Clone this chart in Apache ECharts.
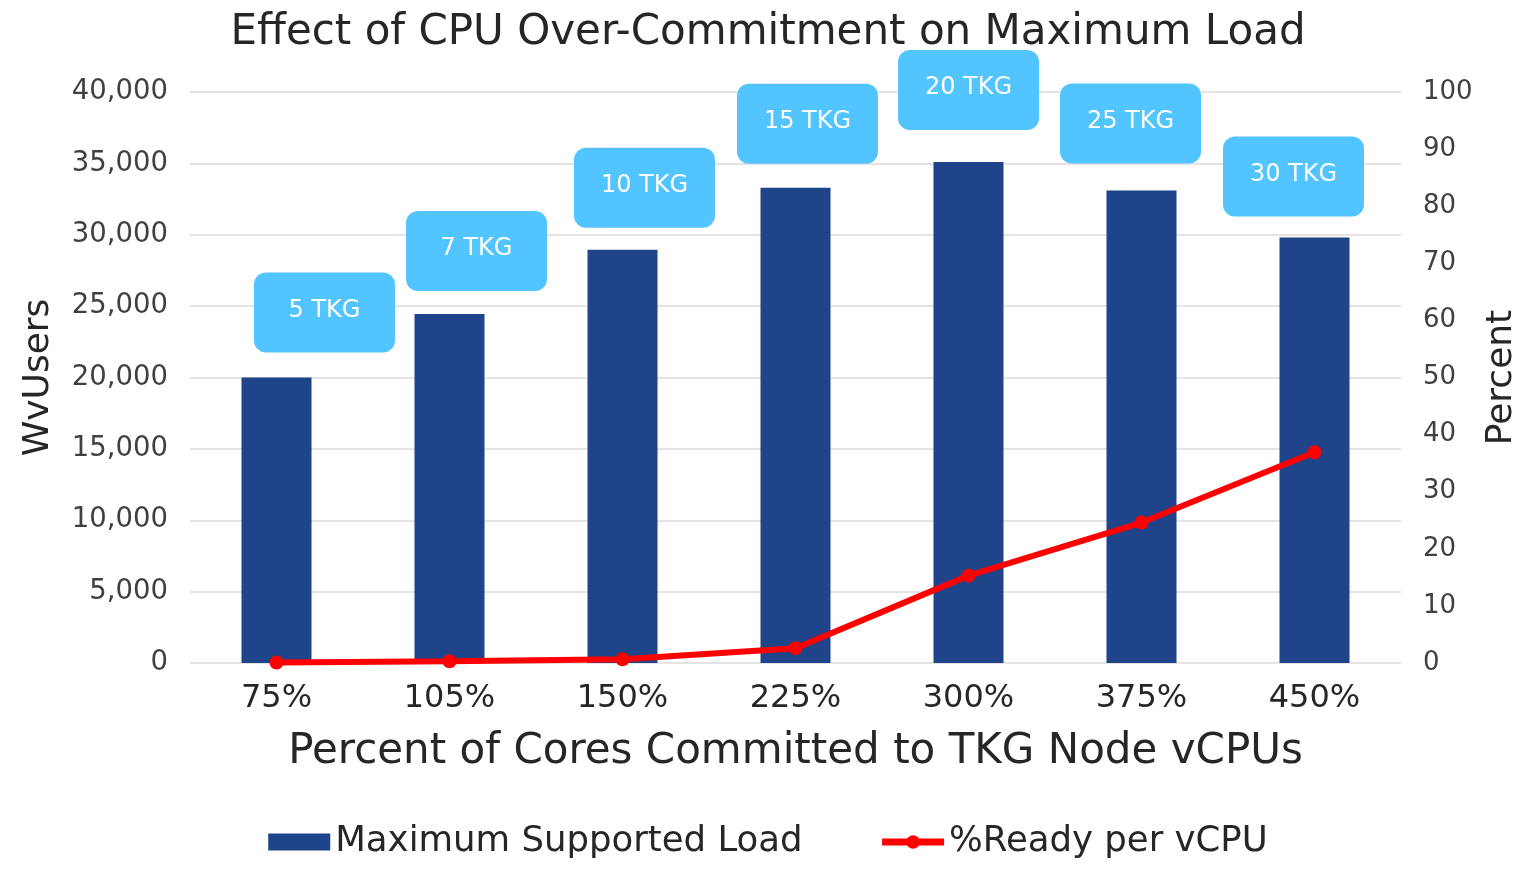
<!DOCTYPE html>
<html><head><meta charset="utf-8">
<script src="https://cdn.jsdelivr.net/npm/echarts@6/dist/echarts.min.js"></script>
<style>html,body{margin:0;padding:0;background:#fff}#c{width:1536px;height:869px}</style>
</head><body><div id="c"></div>
<script>
const categories = ['75%','105%','150%','225%','300%','375%','450%'];
const maxLoad = [20000, 24450, 28950, 33300, 35100, 33100, 29800];
const readyPct = [0.1, 0.3, 0.65, 2.6, 15.3, 24.6, 36.9];
const tkgLabels = ['5 TKG','7 TKG','10 TKG','15 TKG','20 TKG','25 TKG','30 TKG'];
const leftTicks = {min:0, max:40000, interval:5000};
const rightTicks = {min:0, max:100, interval:10};

// callout placement (style only): [dx, dy] in pixels
const calloutOffsets = [[48,0],[27,2],[22,3],[12,1],[0,-7],[-11,-2],[-21,4]];

const FONT = 'DejaVu Sans';
const TXT = '#262626';
const chart = echarts.init(document.getElementById('c'));
chart.setOption({
  backgroundColor:'#fff',
  textStyle:{fontFamily:FONT},
  title:{text:'Effect of CPU Over-Commitment on Maximum Load', left:'center', top:7,
    textStyle:{fontFamily:FONT, fontWeight:'normal', fontSize:42, color:TXT}},
  grid:{left:190, right:135, top:92, bottom:206, containLabel:false},
  legend:{bottom:4, left:'center', itemGap:76, itemWidth:62, itemHeight:17,
    textStyle:{fontFamily:FONT, fontSize:35.5, color:TXT},
    data:[{name:'Maximum Supported Load', icon:'rect'},
          {name:'%Ready per vCPU', lineStyle:{width:7}}]},
  xAxis:{type:'category', data:categories, name:'Percent of Cores Committed to TKG Node vCPUs',
    nameLocation:'middle', nameGap:68, nameTextStyle:{fontSize:42, color:TXT},
    axisLine:{show:false}, axisTick:{show:false},
    axisLabel:{fontSize:32, color:TXT, margin:20}},
  yAxis:[
    {type:'value', min:leftTicks.min, max:leftTicks.max, interval:leftTicks.interval,
     name:'WvUsers', nameLocation:'middle', nameGap:133, nameRotate:90,
     nameTextStyle:{fontSize:36, color:TXT},
     axisLabel:{fontSize:27.5, color:'#404040', margin:22,
       formatter:v=>v.toLocaleString('en-US')},
     splitLine:{lineStyle:{color:'#E4E4E4', width:2}}, axisLine:{show:false}, axisTick:{show:false}},
    {type:'value', min:rightTicks.min, max:rightTicks.max, interval:rightTicks.interval,
     name:'Percent', nameLocation:'middle', nameGap:83, nameRotate:90,
     nameTextStyle:{fontSize:36, color:TXT},
     axisLabel:{fontSize:26, color:'#404040', margin:22},
     splitLine:{show:false}, axisLine:{show:false}, axisTick:{show:false}}
  ],
  series:[
    {name:'Maximum Supported Load', type:'bar', yAxisIndex:0, barWidth:70,
     data:maxLoad.map((v,i)=>({value:v, label:{offset:calloutOffsets[i]}})),
     itemStyle:{color:'#1F4489'},
     label:{show:true, position:'top', distance:25, formatter:p=>tkgLabels[p.dataIndex],
       color:'#fff', fontSize:24, backgroundColor:'#52C4FF', borderRadius:12,
       width:141, height:80, lineHeight:84, align:'center', padding:0}},
    {name:'%Ready per vCPU', type:'line', yAxisIndex:1, data:readyPct,
     lineStyle:{color:'#FF0000', width:6}, itemStyle:{color:'#FF0000'},
     symbol:'circle', symbolSize:14, z:5}
  ]
});
</script></body></html>
